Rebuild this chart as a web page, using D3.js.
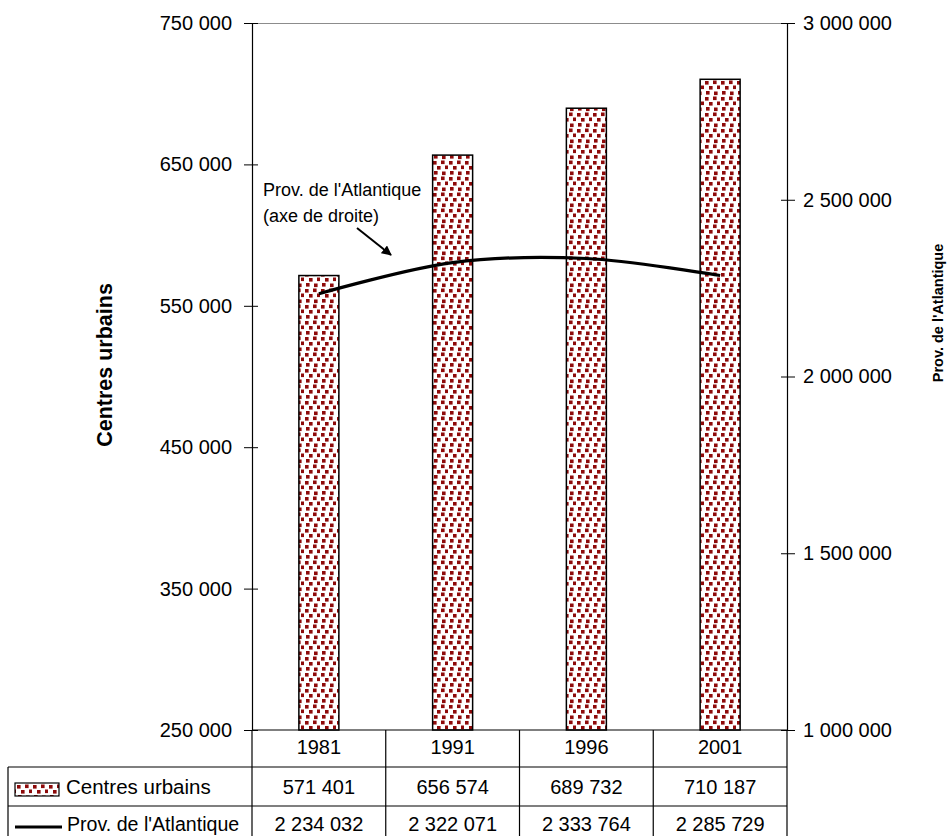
<!DOCTYPE html>
<html>
<head>
<meta charset="utf-8">
<script src="https://cdn.jsdelivr.net/npm/d3@7"></script>
<style>
  html, body { margin: 0; padding: 0; background: #fff; }
  svg { display: block; font-family: "Liberation Sans", Arial, sans-serif; }
</style>
</head>
<body>
<svg id="chart" width="951" height="836"></svg>
<script>
// Years shown along the bottom of the plot and in the data table
const years = ["1981", "1991", "1996", "2001"];
// Population of the urban centres (left axis, bars)
const urbanCentres = [571401, 656574, 689732, 710187];
// Population of the Atlantic provinces (right axis, line)
const atlanticProvinces = [2234032, 2322071, 2333764, 2285729];
// Axis ticks
const leftTicks = [250000, 350000, 450000, 550000, 650000, 750000];
const rightTicks = [1000000, 1500000, 2000000, 2500000, 3000000];
// Series names
const barName = "Centres urbains";
const lineName = "Prov. de l'Atlantique";

const fmt = v => d3.format(",")(v).replace(/,/g, " ");

const svg = d3.select("#chart");
const plot = { left: 252, right: 787, top: 23, bottom: 730 };

// Scales
const x = d3.scaleBand().domain(years).range([plot.left, plot.right]).padding(0);
const yL = d3.scaleLinear().domain([250000, 750000]).range([plot.bottom, plot.top]);
const yR = d3.scaleLinear().domain([1000000, 3000000]).range([plot.bottom, plot.top]);

// Confetti fill used by the bars and the legend swatch
const defs = svg.append("defs");
const pat = defs.append("pattern")
  .attr("id", "confetti")
  .attr("patternUnits", "userSpaceOnUse")
  .attr("width", 16).attr("height", 16);
pat.append("rect").attr("width", 16).attr("height", 16).attr("fill", "#fff");
[[1,1],[9,0.5],[5,6],[13,5.5],[2,11],[10,11.5]]
  .forEach(([px, py]) => pat.append("rect")
    .attr("x", px).attr("y", py).attr("width", 3.6).attr("height", 3.6)
    .attr("fill", "#8e0a0a"));

// Top border of the plot area
svg.append("line")
  .attr("x1", plot.left).attr("x2", plot.right)
  .attr("y1", plot.top + 0.5).attr("y2", plot.top + 0.5)
  .attr("stroke", "#8c8c8c").attr("stroke-width", 1);

// Bars
const barW = 40;
svg.append("g").selectAll("rect")
  .data(years)
  .join("rect")
  .attr("x", d => x(d) + x.bandwidth() / 2 - barW / 2)
  .attr("y", (d, i) => yL(urbanCentres[i]))
  .attr("width", barW)
  .attr("height", (d, i) => yL(250000) - yL(urbanCentres[i]))
  .attr("fill", "url(#confetti)")
  .attr("stroke", "#000").attr("stroke-width", 1.5);

// Smoothed line on the right axis
const line = d3.line()
  .x((d, i) => x(years[i]) + x.bandwidth() / 2)
  .y(d => yR(d))
  .curve(d3.curveCatmullRom.alpha(0.5));
svg.append("path")
  .attr("d", line(atlanticProvinces))
  .attr("fill", "none").attr("stroke", "#000").attr("stroke-width", 3.2);

// Axes (tick marks cross the axis line)
const leftAxis = d3.axisLeft(yL).tickValues(leftTicks).tickFormat(fmt)
  .tickSizeInner(8).tickSizeOuter(0).tickPadding(12);
const rightAxis = d3.axisRight(yR).tickValues(rightTicks).tickFormat(fmt)
  .tickSizeInner(8).tickSizeOuter(0).tickPadding(8);

const gL = svg.append("g").attr("transform", `translate(${plot.left},0)`).call(leftAxis);
const gR = svg.append("g").attr("transform", `translate(${plot.right},0)`).call(rightAxis);
gL.selectAll(".tick line").attr("x1", 6);
gR.selectAll(".tick line").attr("x1", -6);
[gL, gR].forEach(g => {
  g.select(".domain").attr("stroke", "#000").attr("stroke-width", 1.2);
  g.selectAll(".tick line").attr("stroke", "#000");
  g.selectAll(".tick text")
    .attr("font-family", "Liberation Sans, Arial, sans-serif")
    .attr("font-size", 20).attr("fill", "#000");
});

// Axis titles
svg.append("text")
  .attr("transform", "translate(112,365) rotate(-90)")
  .attr("text-anchor", "middle")
  .attr("font-size", 21.5).attr("font-weight", "bold")
  .text(barName);
svg.append("text")
  .attr("transform", "translate(943,313) rotate(-90)")
  .attr("text-anchor", "middle")
  .attr("font-size", 14.5).attr("font-weight", "bold")
  .text(lineName);

// Annotation with arrow pointing at the line
defs.append("marker")
  .attr("id", "arrow").attr("viewBox", "0 0 10 10")
  .attr("refX", 9).attr("refY", 5)
  .attr("markerWidth", 5).attr("markerHeight", 5)
  .attr("orient", "auto")
  .append("path").attr("d", "M0,0 L10,5 L0,10 z").attr("fill", "#000");
const note = svg.append("text").attr("font-size", 18).attr("fill", "#000");
note.append("tspan").attr("x", 263).attr("y", 196).text(lineName);
note.append("tspan").attr("x", 263).attr("y", 222).text("(axe de droite)");
svg.append("line")
  .attr("x1", 357).attr("y1", 228).attr("x2", 391).attr("y2", 255)
  .attr("stroke", "#000").attr("stroke-width", 2)
  .attr("marker-end", "url(#arrow)");

// Data table under the plot
const rowY = [730, 767, 806, 845];
const tableLeft = 8;
const tg = svg.append("g").attr("stroke", "#000").attr("stroke-width", 1.2);
// vertical column separators
const colEdges = years.map(d => x(d)).concat([plot.right]);
colEdges.forEach(cx => tg.append("line")
  .attr("x1", cx).attr("x2", cx).attr("y1", rowY[0]).attr("y2", rowY[3]));
tg.append("line").attr("x1", tableLeft).attr("x2", tableLeft)
  .attr("y1", rowY[1]).attr("y2", rowY[3]);
// horizontal row separators
tg.append("line").attr("x1", plot.left).attr("x2", plot.right)
  .attr("y1", rowY[0]).attr("y2", rowY[0]);
[rowY[1], rowY[2]].forEach(ry => tg.append("line")
  .attr("x1", tableLeft).attr("x2", plot.right).attr("y1", ry).attr("y2", ry));

const cellText = (txt, cx, cy) => svg.append("text")
  .attr("x", cx).attr("y", cy).attr("text-anchor", "middle")
  .attr("font-size", 20).attr("fill", "#000").text(txt);
years.forEach((yr, i) => {
  const cx = x(yr) + x.bandwidth() / 2;
  cellText(yr, cx, 754);
  cellText(fmt(urbanCentres[i]), cx, 794);
  cellText(fmt(atlanticProvinces[i]), cx, 831);
});

// Legend keys in the table's first column
svg.append("rect")
  .attr("x", 15).attr("y", 783).attr("width", 44).attr("height", 13)
  .attr("fill", "url(#confetti)").attr("stroke", "#000").attr("stroke-width", 1.2);
svg.append("text").attr("x", 66).attr("y", 794)
  .attr("font-size", 20.5).attr("fill", "#000").text(barName);
svg.append("line")
  .attr("x1", 15).attr("x2", 62).attr("y1", 827).attr("y2", 827)
  .attr("stroke", "#000").attr("stroke-width", 3);
svg.append("text").attr("x", 67).attr("y", 831)
  .attr("font-size", 19.6).attr("fill", "#000").text(lineName);
</script>
</body>
</html>
